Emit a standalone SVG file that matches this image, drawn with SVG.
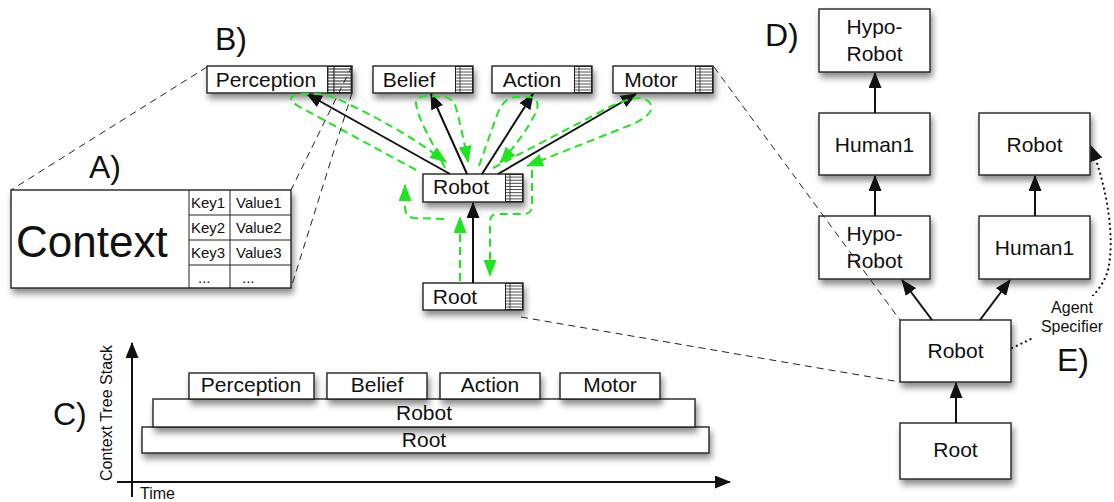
<svg xmlns="http://www.w3.org/2000/svg" xmlns:xlink="http://www.w3.org/1999/xlink" width="1114" height="502" viewBox="0 0 1114 502">
  <style>
    text { font-family: "Liberation Sans", Arial, Helvetica, sans-serif; fill: #111; }
    .box { fill: #fff; stroke: #222; stroke-width: 1.4; }
    .lbl { font-size: 21px; text-anchor: middle; }
    .big { font-size: 32px; }
    .kv { font-size: 15px; }
    .grid { stroke: #222; stroke-width: 1; fill: none; }
    .arrow { stroke: #111; stroke-width: 2; fill: none; marker-end: url(#ah); }
    .trav { stroke: #1ee61e; stroke-width: 2; stroke-dasharray: 8 5; fill: none; marker-end: url(#gh); }
    .callout { stroke: #222; stroke-width: 1; stroke-dasharray: 7 5; fill: none; }
    .axis { stroke: #111; stroke-width: 2; fill: none; marker-end: url(#ah); }
    .spec { stroke: #111; stroke-width: 2.2; stroke-dasharray: 0.1 5; stroke-linecap: round; fill: none; marker-end: url(#ah); }
  </style>
  <defs>
    <filter id="sh" x="-10%" y="-30%" width="125%" height="180%">
      <feDropShadow dx="2" dy="5" stdDeviation="3" flood-color="#000" flood-opacity="0.45"/>
    </filter>
    <marker id="ah" markerUnits="userSpaceOnUse" viewBox="0 0 16 13" refX="15" refY="6.5" markerWidth="16" markerHeight="13" orient="auto">
      <path d="M0,0 L16,6.5 L0,13 z" fill="#111"/>
    </marker>
    <marker id="gh" markerUnits="userSpaceOnUse" viewBox="0 0 17 13" refX="16" refY="6.5" markerWidth="17" markerHeight="13" orient="auto">
      <path d="M0,0 L17,6.5 L0,13 z" fill="#1ee61e"/>
    </marker>
    <!-- small spreadsheet icon carried by every context node -->
    <symbol id="tbl" viewBox="0 0 18 27" preserveAspectRatio="none">
      <rect x="0.5" y="0.5" width="17" height="26" fill="#fff" stroke="#222" stroke-width="1"/>
      <path d="M5,0V27 M0,3H18 M0,6H18 M0,9H18 M0,12H18 M0,15H18 M0,18H18 M0,21H18 M0,24H18" stroke="#222" stroke-width="0.8"/>
    </symbol>
  </defs>

  <!-- section letters -->
  <text class="big" x="215" y="50">B)</text>
  <text class="big" x="89" y="178">A)</text>
  <text class="big" x="53" y="425">C)</text>
  <text class="big" x="765" y="46">D)</text>
  <text class="big" x="1057" y="371">E)</text>

  <!-- A) a single context with its key/value table -->
  <g id="context">
    <rect class="box" x="11" y="190" width="280" height="98" filter="url(#sh)"/>
    <path class="grid" d="M189,190V288 M230,190V288 M189,215H291 M189,240H291 M189,265H291"/>
    <text x="16" y="257" font-size="44">Context</text>
    <text class="kv" x="191" y="208">Key1</text>
    <text class="kv" x="236" y="208">Value1</text>
    <text class="kv" x="191" y="233">Key2</text>
    <text class="kv" x="236" y="233">Value2</text>
    <text class="kv" x="191" y="258">Key3</text>
    <text class="kv" x="236" y="258">Value3</text>
    <text class="kv" x="198" y="283">...</text>
    <text class="kv" x="242" y="283">...</text>
  </g>

  <!-- B) context tree -->
  <g id="b-perception">
    <rect class="box" x="207" y="66" width="145" height="27" filter="url(#sh)"/>
    <use href="#tbl" x="327" y="66" width="25" height="27"/>
    <text class="lbl" x="266" y="87">Perception</text>
  </g>
  <g id="b-belief">
    <rect class="box" x="373" y="66" width="100" height="27" filter="url(#sh)"/>
    <use href="#tbl" x="455" y="66" width="18" height="27"/>
    <text class="lbl" x="409" y="87">Belief</text>
  </g>
  <g id="b-action">
    <rect class="box" x="492" y="66" width="100" height="27" filter="url(#sh)"/>
    <use href="#tbl" x="574" y="66" width="18" height="27"/>
    <text class="lbl" x="532" y="87">Action</text>
  </g>
  <g id="b-motor">
    <rect class="box" x="613" y="66" width="100" height="27" filter="url(#sh)"/>
    <use href="#tbl" x="695" y="66" width="18" height="27"/>
    <text class="lbl" x="651" y="87">Motor</text>
  </g>
  <g id="b-robot">
    <rect class="box" x="423" y="174" width="100" height="28" filter="url(#sh)"/>
    <use href="#tbl" x="505" y="174" width="18" height="28"/>
    <text class="lbl" x="461" y="194">Robot</text>
  </g>
  <g id="b-root">
    <rect class="box" x="423" y="283" width="100" height="27" filter="url(#sh)"/>
    <use href="#tbl" x="505" y="283" width="18" height="27"/>
    <text class="lbl" x="455" y="304">Root</text>
  </g>

  <!-- C) the context tree as a stack over time -->
  <g id="stack">
    <rect class="box" x="142" y="427" width="567" height="26" filter="url(#sh)"/>
    <text class="lbl" x="424" y="447">Root</text>
    <rect class="box" x="153" y="399" width="542" height="28" filter="url(#sh)"/>
    <text class="lbl" x="424" y="420">Robot</text>
    <rect class="box" x="189" y="373" width="125" height="26" filter="url(#sh)"/>
    <text class="lbl" x="251" y="392">Perception</text>
    <rect class="box" x="327" y="373" width="100" height="26" filter="url(#sh)"/>
    <text class="lbl" x="377" y="392">Belief</text>
    <rect class="box" x="440" y="373" width="100" height="26" filter="url(#sh)"/>
    <text class="lbl" x="490" y="392">Action</text>
    <rect class="box" x="560" y="373" width="100" height="26" filter="url(#sh)"/>
    <text class="lbl" x="610" y="392">Motor</text>
  </g>
  <g id="stack-axes">
    <path class="axis" d="M132,497 V343"/>
    <path class="axis" d="M117,482 H730"/>
    <text x="112" y="413" font-size="16" text-anchor="middle" transform="rotate(-90 112 413)">Context Tree Stack</text>
    <text x="140" y="499" font-size="16">Time</text>
  </g>

  <!-- D) agent tree -->
  <g id="d-hypo-top">
    <rect class="box" x="819" y="9" width="111" height="63" filter="url(#sh)"/>
    <text class="lbl" x="874.5" y="34" font-size="20.5">Hypo-</text>
    <text class="lbl" x="874.5" y="61" font-size="20.5">Robot</text>
  </g>
  <g id="d-human-left">
    <rect class="box" x="819" y="113" width="111" height="62" filter="url(#sh)"/>
    <text class="lbl" x="874.5" y="152" font-size="20.5">Human1</text>
  </g>
  <g id="d-robot-right">
    <rect class="box" x="979" y="113" width="111" height="62" filter="url(#sh)"/>
    <text class="lbl" x="1034.5" y="152" font-size="20.5">Robot</text>
  </g>
  <g id="d-hypo-low">
    <rect class="box" x="819" y="216" width="111" height="63" filter="url(#sh)"/>
    <text class="lbl" x="874.5" y="241" font-size="20.5">Hypo-</text>
    <text class="lbl" x="874.5" y="268" font-size="20.5">Robot</text>
  </g>
  <g id="d-human-right">
    <rect class="box" x="979" y="216" width="111" height="63" filter="url(#sh)"/>
    <text class="lbl" x="1034.5" y="255" font-size="20.5">Human1</text>
  </g>
  <g id="d-robot">
    <rect class="box" x="900" y="320" width="111" height="62" filter="url(#sh)"/>
    <text class="lbl" x="955.5" y="358" font-size="20.5">Robot</text>
  </g>
  <g id="d-root">
    <rect class="box" x="900" y="423" width="111" height="56" filter="url(#sh)"/>
    <text class="lbl" x="955.5" y="457" font-size="20.5">Root</text>
  </g>

  <g id="connectors">
    <!-- B) parent to child links -->
    <path class="arrow" d="M450,174 L307,94"/>
    <path class="arrow" d="M467,174 L431,94"/>
    <path class="arrow" d="M482,174 L533,94"/>
    <path class="arrow" d="M498,174 L636,94"/>
    <path class="arrow" d="M473,283 L473,203"/>

    <!-- B) traversal order -->
    <path class="trav" d="M460,281 L460,217"/>
    <path class="trav" d="M444,219 L414,218 Q405,217 405,207 L405,185"/>
    <path class="trav" d="M416,170 L298,106 Q283,97 300,94 L318,94 Q332,95 348,104 Q400,128 446,162"/>
    <path class="trav" d="M445,168 L427,133 Q418,116 416,104 Q415,96 428,96 L445,97 Q454,99 456,108 Q462,130 468,162"/>
    <path class="trav" d="M479,166 L497,115 Q503,98 515,97 L530,97 Q541,99 536,112 Q525,135 500,163"/>
    <path class="trav" d="M493,168 L600,112 Q625,98 640,98 Q653,100 651,110 Q648,118 628,126 L527,166"/>
    <path class="trav" d="M532,170 L532,206 Q532,214 523,214 L498,214 Q490,214 490,222 L490,276"/>

    <!-- D) parent to child links -->
    <path class="arrow" d="M875,113 L875,73"/>
    <path class="arrow" d="M875,216 L875,176"/>
    <path class="arrow" d="M1035,216 L1035,176"/>
    <path class="arrow" d="M932,320 L902,280"/>
    <path class="arrow" d="M980,320 L1010,280"/>
    <path class="arrow" d="M956,423 L956,383"/>

    <!-- E) agent specifier link -->
    <path class="spec" d="M1012,348 C1060,326 1100,300 1108,270 C1115,240 1108,190 1091,146"/>

    <!-- zoom-in guide lines -->
    <path class="callout" d="M207,67 L11,190"/>
    <path class="callout" d="M352,66 L291,190"/>
    <path class="callout" d="M352,93 L291,288"/>
    <path class="callout" d="M714,67 L900,320"/>
    <path class="callout" d="M521,317 L900,382"/>
  </g>

  <g id="agent-specifier-label">
    <rect x="1034" y="296" width="75" height="42" fill="#fff"/>
    <text x="1072" y="313" font-size="16" text-anchor="middle">Agent</text>
    <text x="1072" y="332" font-size="16" text-anchor="middle">Specifier</text>
  </g>
</svg>
